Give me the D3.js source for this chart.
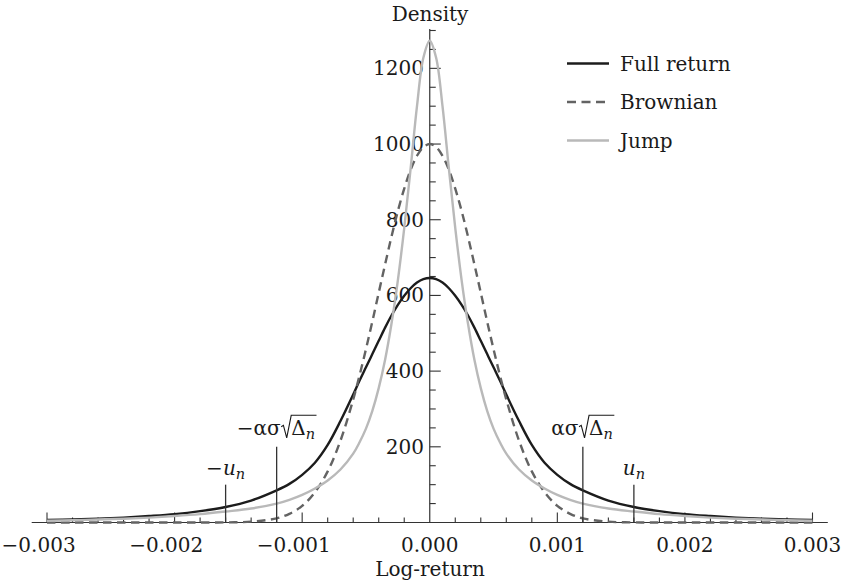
<!DOCTYPE html>
<html>
<head>
<meta charset="utf-8">
<script src="https://cdn.jsdelivr.net/npm/d3@7"></script>
<style>
  html, body { margin: 0; padding: 0; background: #fff; }
  svg { display: block; }
  text { font-family: "DejaVu Serif", "Liberation Serif", serif; fill: #1a1a1a; }
</style>
</head>
<body>
<svg id="chart" width="846" height="585"></svg>
<script>
// Log-return grid shared by all three densities
const logReturn = [-0.003,-0.0028,-0.0026,-0.0024,-0.0022,-0.002,-0.0018,-0.0016,-0.0014,-0.0012,-0.0011,-0.001,-0.0009,-0.0008,-0.0007,-0.0006,-0.00055,-0.0005,-0.00045,-0.0004,-0.00035,-0.0003,-0.00025,-0.0002,-0.00015,-0.0001,-0.00005,0,0.00005,0.0001,0.00015,0.0002,0.00025,0.0003,0.00035,0.0004,0.00045,0.0005,0.00055,0.0006,0.0007,0.0008,0.0009,0.001,0.0011,0.0012,0.0014,0.0016,0.0018,0.002,0.0022,0.0024,0.0026,0.0028,0.003];

const fullReturn = [6.5,8,10,13,17,22,30,41,58,85,102,126,158,205,268,338,375,410,445,480,515,547,575,599,619,634,643,646,643,634,619,599,575,547,515,480,445,410,375,338,268,205,158,126,102,85,58,41,30,22,17,13,10,8,6.5];

const brownian = [0,0,0,0,0,0,0,0.3,2.2,11,23,44,80,135,216,325,389,458,531,607,682,755,823,882,932,969,992,1000,992,969,932,882,823,755,682,607,531,458,389,325,216,135,80,44,23,11,2.2,0.3,0,0,0,0,0,0,0];

const jump = [4.5,6,8,10,13,17,22,29,37,50,60,73,90,111,140,182,212,248,295,355,430,525,640,778,935,1100,1228,1273,1228,1100,935,778,640,525,430,355,295,248,212,182,140,111,90,73,60,50,37,29,22,17,13,10,8,6,4.5];

const seriesNames = ["Full return", "Brownian", "Jump"];
const xTicks = [-0.003,-0.002,-0.001,0,0.001,0.002,0.003];
const yTicks = [200,400,600,800,1000,1200];

// Threshold markers on the log-return axis
const markers = [
  { x: -0.0016, height: 100, label: "un", minus: true },
  { x: -0.0012, height: 200, label: "radical", minus: true },
  { x: 0.0012, height: 200, label: "radical", minus: false },
  { x: 0.0016, height: 100, label: "un", minus: false }
];

const svg = d3.select("#chart");
const FS = 20;
const SUB = 14.5;

const x = d3.scaleLinear().domain([-0.003, 0.003]).range([47, 812.5]);
const y = d3.scaleLinear().domain([0, 1300]).range([522.5, 30.5]);
const y0 = y(0), x0 = x(0);

const styles = {
  "Full return": { stroke: "#1c1c1c", dash: null },
  "Brownian": { stroke: "#636363", dash: "8.5,5.5" },
  "Jump": { stroke: "#b9b9b9", dash: null }
};

// Axes
const axisColor = "#333";
svg.append("line").attr("x1", x(-0.00312)).attr("x2", x(0.00312))
  .attr("y1", y0).attr("y2", y0).attr("stroke", axisColor).attr("stroke-width", 1.2);
svg.append("line").attr("x1", x0).attr("x2", x0)
  .attr("y1", y0).attr("y2", 29).attr("stroke", axisColor).attr("stroke-width", 1.2);

// x ticks (pointing up into the plot)
d3.range(-15, 16).forEach(i => {
  if (i === 0) return;
  const v = i * 0.0002;
  const major = i % 5 === 0;
  svg.append("line").attr("x1", x(v)).attr("x2", x(v))
    .attr("y1", y0).attr("y2", y0 - (major ? 10 : 5))
    .attr("stroke", axisColor).attr("stroke-width", 1.1);
});

// y ticks (pointing right)
d3.range(1, 27).forEach(i => {
  const v = i * 50;
  const major = v % 200 === 0;
  svg.append("line").attr("x1", x0).attr("x2", x0 + (major ? 11 : 6))
    .attr("y1", y(v)).attr("y2", y(v))
    .attr("stroke", axisColor).attr("stroke-width", 1.1);
});

// x tick labels: the number centred on the tick, minus sign hanging left
xTicks.forEach(v => {
  const num = Math.abs(v).toFixed(3);
  const t = svg.append("text").attr("x", x(v)).attr("y", 552)
    .attr("text-anchor", "middle").attr("font-size", FS).text(num);
  if (v < 0) {
    const w = t.node().getComputedTextLength();
    svg.append("text").attr("x", x(v) - w / 2).attr("y", 552)
      .attr("text-anchor", "end").attr("font-size", FS).text("\u2212");
  }
});

// y tick labels
yTicks.forEach(v => {
  svg.append("text").attr("x", 424).attr("y", y(v) + 7)
    .attr("text-anchor", "end").attr("font-size", FS).text(v);
});

// axis titles
svg.append("text").attr("x", 430).attr("y", 21).attr("text-anchor", "middle")
  .attr("font-size", FS).text("Density");
svg.append("text").attr("x", 430).attr("y", 576).attr("text-anchor", "middle")
  .attr("font-size", FS).text("Log-return");

// Density curves
const seriesData = { "Full return": fullReturn, "Brownian": brownian, "Jump": jump };
const line = d3.line()
  .x((d, i) => x(logReturn[i]))
  .y(d => y(d))
  .curve(d3.curveCatmullRom.alpha(0.5));

seriesNames.forEach(name => {
  const st = styles[name];
  svg.append("path").datum(seriesData[name])
    .attr("d", line)
    .attr("fill", "none")
    .attr("stroke", st.stroke)
    .attr("stroke-width", 2.4)
    .attr("stroke-dasharray", st.dash)
    .attr("stroke-linejoin", "round");
});

// Threshold markers and their labels
markers.forEach(m => {
  const px = x(m.x);
  const top = y(m.height);
  svg.append("line").attr("x1", px).attr("x2", px).attr("y1", y0).attr("y2", top)
    .attr("stroke", "#333").attr("stroke-width", 1.3);
  if (m.label === "un") {
    const base = top - 10;
    const t = svg.append("text").attr("x", px).attr("y", base)
      .attr("text-anchor", "middle").attr("font-size", FS);
    if (m.minus) t.append("tspan").text("\u2212");
    t.append("tspan").attr("font-style", "italic").text("u");
    t.append("tspan").attr("font-style", "italic").attr("font-size", SUB).attr("dy", 4.5).text("n");
  } else {
    // (−)ασ, a drawn radical sign, then Δ with subscript n under the bar
    const base = top - 12;
    const g = svg.append("g");
    const t1 = g.append("text").attr("x", 0).attr("y", base).attr("font-size", FS)
      .text((m.minus ? "\u2212" : "") + "\u03b1\u03c3");
    const w1 = t1.node().getComputedTextLength();
    const R = 10.5;
    const t2 = g.append("text").attr("x", w1 + R).attr("y", base).attr("font-size", FS);
    t2.append("tspan").text("\u0394");
    t2.append("tspan").attr("font-style", "italic").attr("font-size", SUB).attr("dy", 4.5).text("n");
    const w2 = t2.node().getComputedTextLength();
    const end = w1 + R + w2 + 1.5;
    const rx = w1 + 0.5;
    g.append("path")
      .attr("d", `M${rx},${base - 8} L${rx + 2.2},${base - 9.5} L${rx + 5.5},${base + 3} L${rx + R - 0.5},${base - 19.5} L${end},${base - 19.5}`)
      .attr("fill", "none").attr("stroke", "#1a1a1a").attr("stroke-width", 1.1)
      .attr("stroke-linejoin", "miter");
    const total = end;
    g.attr("transform", `translate(${px - total / 2},0)`);
  }
});

// Legend
const legendX = 567, legendY = 63.5, legendGap = 38.5;
seriesNames.forEach((name, i) => {
  const st = styles[name];
  const ly = legendY + i * legendGap;
  svg.append("line").attr("x1", legendX).attr("x2", legendX + 42)
    .attr("y1", ly).attr("y2", ly)
    .attr("stroke", st.stroke).attr("stroke-width", 2.4)
    .attr("stroke-dasharray", st.dash ? "9,5.5" : null);
  svg.append("text").attr("x", 620).attr("y", ly + 7)
    .attr("font-size", FS).text(name);
});
</script>
</body>
</html>
